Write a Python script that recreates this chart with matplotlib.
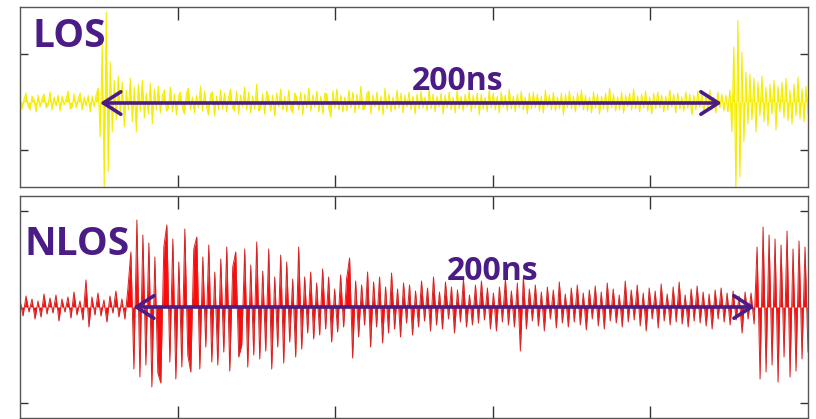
import matplotlib
matplotlib.use("Agg")
import matplotlib.pyplot as plt
import numpy as np
from matplotlib.patches import FancyArrowPatch

# signed peak values of each trace, in pixels from the baseline
los_values = [
    5, -7, 3, 9, -4, -8, 6, 2, -10, 7,
    -5, 4, 8, -6, -3, 10, -8, 5, -4, 7,
    -9, 6, -3, 4, 11, -7, -5, 8, -6, 3,
    9, -8, 5, -4, 7, -10, 6, -5, 8, 14,
    -35, 60, -88, 90, -70, 40, -30, 22, -18, 26,
    -14, 20, -25, 12, -8, 24, -20, 15, -30, 18,
    -10, 22, -16, 9, -12, 19, -22, 13, -8, 16,
    -11, 7, 12, -9, -6, 15, -10, 8, -13, 6,
    10, -7, -12, 9, 14, -8, 5, -11, 7, -6,
    16, -9, 11, -5, -13, 8, 10, -14, 6, -8,
    12, -7, 9, -10, 5, 13, -6, -9, 11, -12,
    7, -5, 15, -8, 10, -11, 6, -7, 18, -9,
    -6, 8, -12, 11, 5, -9, 7, -14, 9, -5,
    13, -8, 6, -10, 12, -7, -11, 9, 5, -8,
    10, -13, 8, -6, 14, -9, 7, -5, 11, -10,
    6, -12, 9, 8, -7, -15, 11, -6, 13, -8,
    7, -10, 5, -9, 12, -6, 10, -11, 8, -7,
    16, -8, -6, 9, 11, -12, 7, -5, 10, -9,
    6, -13, 14, -7, 8, -10, 5, -8, 12, -6,
    9, -11, 7, -5, 10, -8, 6, -12, 8, -7,
    11, -6, 5, -9, 13, -7, 8, -10, 6, -5,
    9, -12, 7, -6, 10, -8, 5, -11, 12, -7,
    6, -9, 8, -5, 11, -10, 7, -6, 9, -13,
    8, -7, 5, -10, 12, -6, 9, -8, 6, -11,
    10, -5, 7, -9, 13, -7, 6, -10, 8, -6,
    11, -8, 5, -12, 9, -7, 10, -6, 8, -9,
    6, -11, 12, -5, 7, -8, 10, -9, 5, -7,
    9, -13, 8, -6, 11, -7, 6, -10, 9, -5,
    12, -8, 7, -9, 5, -11, 10, -6, 8, -12,
    6, -7, 9, -10, 14, -6, 8, -9, 5, -8,
    10, -11, 7, -5, 9, -8, 13, -7, 6, -10,
    8, -6, 11, -9, 5, -12, 9, -7, 10, -6,
    7, -10, 6, -8, 12, -5, 8, -11, 9, -7,
    5, -9, 10, -6, 8, -13, 7, -8, 11, -5,
    9, -10, 6, -7, 12, -8, 5, -11, 10, -6,
    8, -9, 7, -10, 12, -30, 55, -88, 82, -75,
    50, -40, 30, -22, 28, -18, 24, -30, 20, -14,
    26, -20, 15, -24, 18, -12, 22, -28, 16, -10,
    20, -16, 24, -19, 12, -22, 18, -14, 25, -17,
    13, -20, 16, -12,
]

nlos_values = [
    7, -9, 11, -5, 8, -12, 6, -10, 13, -7,
    9, -6, 12, -14, 8, -5, 10, -11, 15, -8,
    6, -13, 27, -20, 10, -8, 14, -9, 7, -15,
    11, -6, 16, -10, 8, -12, 18, 55, -62, 87,
    -70, 72, -58, 64, -80, 50, -66, -76, 60, 82,
    -55, 68, -72, 45, -60, 78, -48, -65, 58, 70,
    -62, 50, -40, 62, -55, 35, -58, 48, -45, 60,
    -64, 40, 55, -50, -38, 58, -60, 42, -48, 65,
    -52, 36, -44, 58, -62, 30, -40, 52, -56, 45,
    -35, 28, -50, 60, -42, 30, -26, 35, -32, 24,
    -28, 38, -22, 30, -35, 18, -25, 32, -20, 28,
    49, -51, 26, -30, 22, -18, 35, -40, 25, -20,
    30, -36, 20, -26, 34, -22, 18, -30, 24, -16,
    22, -28, 16, -20, 26, -14, 19, -24, 30, -18,
    15, -22, 25, -12, 20, -26, 17, -15, 28, -20,
    12, -18, 22, -16, 26, -13, 19, -22, 14, -24,
    20, -15, 28, -18, 16, -20, 24, -44, 30, -22,
    18, -14, 22, -19, 15, -24, 20, -12, 17, -21,
    25, -16, 13, -20, 19, -15, 22, -18, 14, -23,
    17, -12, 21, -19, 15, -22, 24, -14, 18, -16,
    12, -20, 26, -15, 17, -13, 22, -19, 14, -24,
    19, -12, 16, -21, 23, -14, 13, -18, 20, -15,
    25, -17, 12, -20, 18, -14, 21, -16, 15, -19,
    13, -22, 17, -12, 19, -15, 14, -18, 16, -13,
    11, -26, 15, -12, 14, -17, 60, -72, 80, -65,
    72, -58, 68, -75, 62, -50, 76, -70, 58, -64,
    66, -52, 60, -45,
]

labels = ["LOS", "NLOS"]
span_text = "200ns"
# arrow ends (x in units of 10^4 samples)
los_span = (0.49, 4.47)
nlos_span = (0.70, 4.68)

purple = "#4b1c86"
W, H = 816, 419
fig = plt.figure(figsize=(W / 100, H / 100), dpi=100)
fig.patch.set_facecolor("white")

ax1 = fig.add_axes([20 / W, (H - 187) / H, 788 / W, 180 / H])
ax2 = fig.add_axes([20 / W, 1 / H, 788 / W, 222 / H])


def style(ax, yt):
    ax.set_xlim(0, 5)
    ax.set_xticks([1, 2, 3, 4])
    ax.set_yticks(yt)
    ax.set_xticklabels([])
    ax.set_yticklabels([])
    ax.tick_params(axis="x", direction="in", length=9, width=1, color="#333333",
                   top=True, bottom=True)
    ax.tick_params(axis="y", direction="in", length=6, width=1, color="#333333",
                   left=True, right=True)
    for s in ax.spines.values():
        s.set_edgecolor("#555555")
        s.set_linewidth(1.0)


los_x = np.linspace(0, 5, len(los_values))
ax1.fill_between(los_x, los_values, 0, color="#f8f000", lw=0)
ax1.plot(los_x, los_values, color="#f4ec00", lw=0.7)
ax1.set_ylim(-85, 95)
style(ax1, [-48, 48])

nlos_x = np.linspace(0, 5, len(nlos_values))
ax2.fill_between(nlos_x, nlos_values, 0, color="#ff0a0a", lw=0)
ax2.plot(nlos_x, nlos_values, color="#d42626", lw=0.7)
ax2.set_ylim(-111, 111)
style(ax2, [-96, 96])

for ax, span, ty in [(ax1, los_span, -1), (ax2, nlos_span, 0)]:
    arr = FancyArrowPatch((span[0], ty), (span[1], ty),
                          arrowstyle="<->,head_length=0.7,head_width=0.45",
                          mutation_scale=18, color=purple, lw=2.6, zorder=5)
    ax.add_patch(arr)

fig.text(32 / W, 1 - 47 / H, labels[0], color=purple, fontsize=28,
         fontweight="bold", family="Open Sans", va="baseline", ha="left")
fig.text(24 / W, 1 - 255 / H, labels[1], color=purple, fontsize=28,
         fontweight="bold", family="Open Sans", va="baseline", ha="left")
fig.text(458 / W, 1 - 90 / H, span_text, color=purple, fontsize=23,
         fontweight="bold", family="Open Sans", va="baseline", ha="center")
fig.text(493 / W, 1 - 280 / H, span_text, color=purple, fontsize=23,
         fontweight="bold", family="Open Sans", va="baseline", ha="center")

fig.savefig("out.png", dpi=100, facecolor="white")
